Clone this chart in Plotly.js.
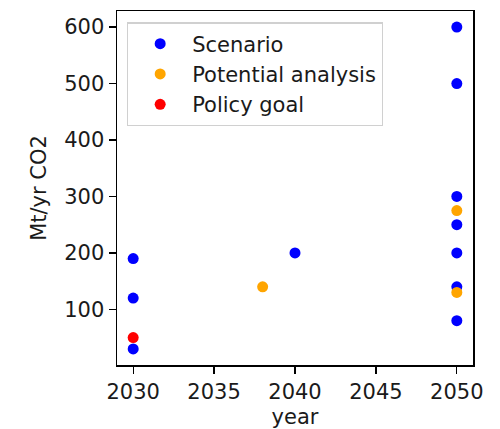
<!DOCTYPE html>
<html>
<head>
<meta charset="utf-8">
<script src="https://cdn.plot.ly/plotly-3.0.1.min.js"></script>
<style>html,body{margin:0;padding:0;background:#fff}#chart{width:500px;height:429px}</style>
</head>
<body>
<div id="chart"></div>
<script>
const scenarioYear = [2030, 2030, 2030, 2040, 2050, 2050, 2050, 2050, 2050, 2050, 2050];
const scenarioValue = [190, 120, 30, 200, 600, 500, 300, 250, 200, 140, 80];
const potentialYear = [2038, 2050, 2050];
const potentialValue = [140, 275, 130];
const policyYear = [2030];
const policyValue = [50];
const xTicks = [2030, 2035, 2040, 2045, 2050];
const yTicks = [100, 200, 300, 400, 500, 600];

const font = {family: 'DejaVu Sans', size: 21, color: '#1a1a1a'};
const mk = c => ({color: c, size: 11, line: {width: 0}});
const data = [
  {type: 'scatter', mode: 'markers', name: 'Scenario', x: scenarioYear, y: scenarioValue, marker: mk('#0000ff')},
  {type: 'scatter', mode: 'markers', name: 'Potential analysis', x: potentialYear, y: potentialValue, marker: mk('#ffa500')},
  {type: 'scatter', mode: 'markers', name: 'Policy goal', x: policyYear, y: policyValue, marker: mk('#ff0000')}
];
const axisCommon = {
  showgrid: false, zeroline: false, showline: true, mirror: true,
  linecolor: '#000', linewidth: 1.5, ticks: 'outside', ticklen: 7, tickwidth: 1.3,
  tickcolor: '#000', tickfont: font
};
const layout = {
  width: 500, height: 429,
  margin: {l: 117, r: 27, t: 11, b: 64},
  paper_bgcolor: '#fff', plot_bgcolor: '#fff',
  font: font,
  showlegend: true,
  legend: {
    x: 0.028, y: 0.968, xanchor: 'left', yanchor: 'top',
    bgcolor: 'rgba(255,255,255,0.8)', bordercolor: '#d0d0d0', borderwidth: 1.2,
    font: font, tracegroupgap: 0, itemwidth: 54
  },
  xaxis: Object.assign({}, axisCommon, {
    range: [2029, 2051], tickvals: xTicks, ticktext: xTicks.map(String),
    title: {text: 'year', font: font, standoff: 6}
  }),
  yaxis: Object.assign({}, axisCommon, {
    range: [1.5, 628.5], tickvals: yTicks, ticktext: yTicks.map(String),
    title: {text: 'Mt/yr CO2', font: font, standoff: 12}
  })
};
Plotly.newPlot('chart', data, layout, {displayModeBar: false, staticPlot: true});
</script>
</body>
</html>
